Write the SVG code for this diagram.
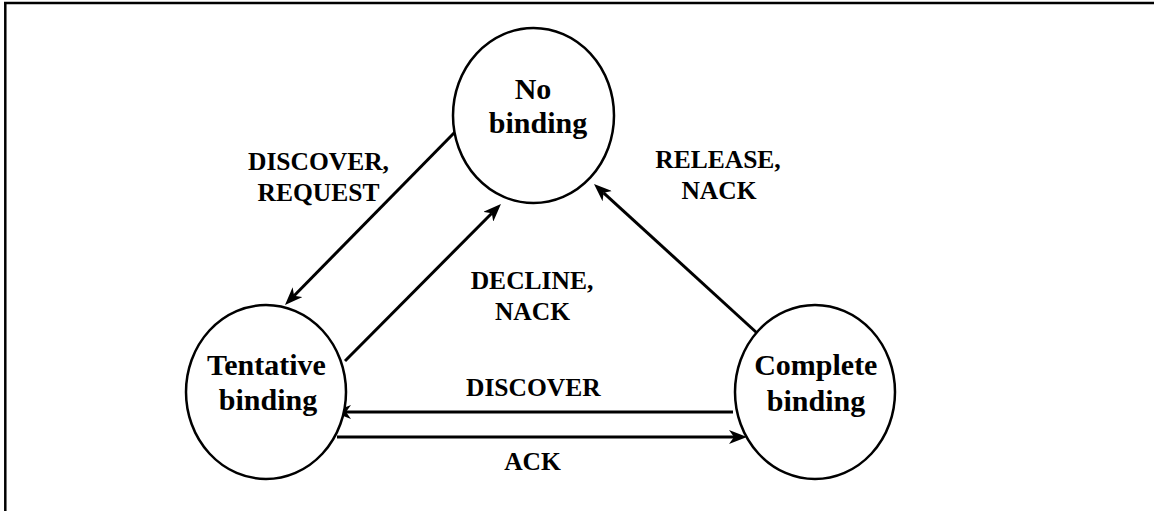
<svg xmlns="http://www.w3.org/2000/svg" width="1154" height="511" viewBox="0 0 1154 511">
  <style>
    .node { fill: #fff; stroke: #000; stroke-width: 2.5; }
    .ntext { font-family: "Liberation Serif", "Times New Roman", serif; font-weight: bold; font-size: 30px; text-anchor: middle; fill: #000; }
    .ltext { font-family: "Liberation Serif", "Times New Roman", serif; font-weight: bold; font-size: 25.5px; text-anchor: middle; fill: #000; }
    .edge { stroke: #000; stroke-width: 3; fill: none; marker-end: url(#arrow); }
    .frame { stroke: #000; stroke-width: 2.5; fill: none; }
  </style>
  <defs>
    <marker id="arrow" markerUnits="userSpaceOnUse" markerWidth="18" markerHeight="14" viewBox="0 0 18 14" refX="5" refY="7" orient="auto">
      <path d="M18,7 L0,0 L5,7 L0,14 Z" fill="#000"/>
    </marker>
  </defs>
  <rect width="1154" height="511" fill="#fff"/>
  <g id="frame">
    <line class="frame" x1="4" y1="3" x2="1154" y2="3"/>
    <line class="frame" x1="5.3" y1="2" x2="5.3" y2="511"/>
  </g>
  <g id="connectors">
    <line class="edge" x1="455" y1="132" x2="294.1" y2="295.7"/>
    <line class="edge" x1="345" y1="361" x2="491.8" y2="213.2"/>
    <line class="edge" x1="757" y1="333" x2="603.6" y2="192.8"/>
    <line class="edge" x1="733" y1="412" x2="346" y2="412"/>
    <line class="edge" x1="337" y1="437" x2="734" y2="437"/>
  </g>
  <g id="labels">
    <text class="ltext" x="318.5" y="170">DISCOVER,</text>
    <text class="ltext" x="318.5" y="201">REQUEST</text>
    <text class="ltext" x="718" y="168">RELEASE,</text>
    <text class="ltext" x="719" y="199">NACK</text>
    <text class="ltext" x="532" y="289">DECLINE,</text>
    <text class="ltext" x="532.5" y="320">NACK</text>
    <text class="ltext" x="533.3" y="396">DISCOVER</text>
    <text class="ltext" x="532.5" y="470">ACK</text>
  </g>
  <g id="no-binding">
    <ellipse class="node" cx="533.5" cy="115.5" rx="80.5" ry="87.5"/>
    <text class="ntext" x="533" y="99">No</text>
    <text class="ntext" x="538" y="133">binding</text>
  </g>
  <g id="tentative-binding">
    <ellipse class="node" cx="266" cy="392" rx="80" ry="87"/>
    <text class="ntext" x="266.5" y="375">Tentative</text>
    <text class="ntext" x="268" y="410">binding</text>
  </g>
  <g id="complete-binding">
    <ellipse class="node" cx="815" cy="392" rx="80" ry="87"/>
    <text class="ntext" x="815.8" y="375">Complete</text>
    <text class="ntext" x="816" y="410.5">binding</text>
  </g>
</svg>
